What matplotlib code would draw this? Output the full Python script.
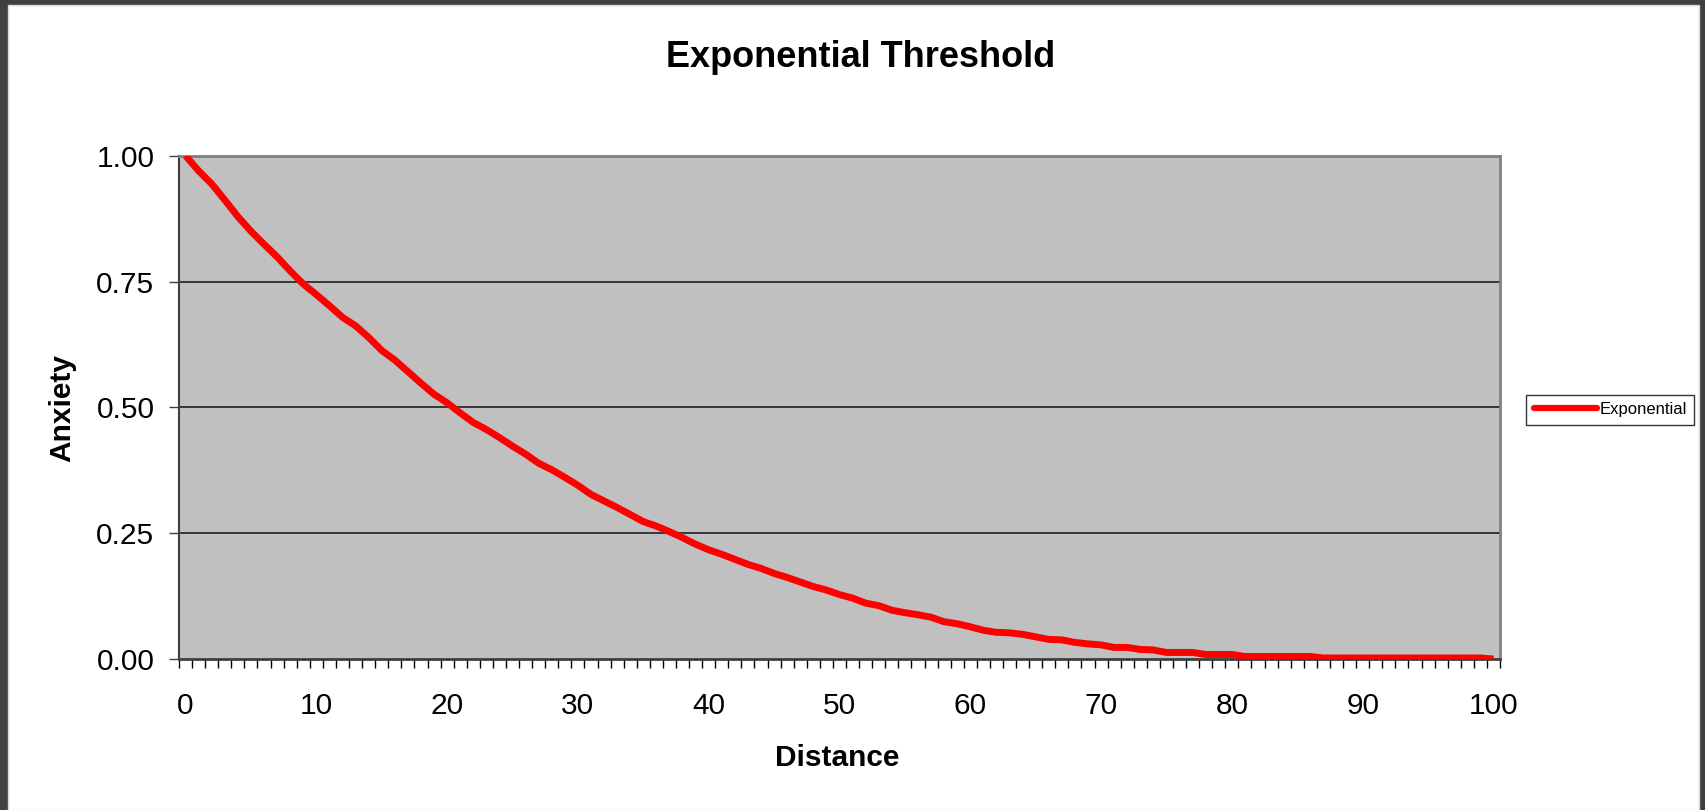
import matplotlib
matplotlib.use('Agg')
import matplotlib.pyplot as plt
import matplotlib.patches as patches
import numpy as np

plt.rcParams['font.family'] = ['Liberation Sans', 'DejaVu Sans']

# distance 0..100, anxiety
distance = list(range(0, 101))
anxiety = [1.000, 0.970, 0.944, 0.912, 0.879, 0.850, 0.824, 0.799, 0.771, 0.745, 0.724,
           0.702, 0.679, 0.662, 0.639, 0.613, 0.594, 0.571, 0.548, 0.526, 0.509,
           0.489, 0.470, 0.456, 0.440, 0.423, 0.407, 0.389, 0.376, 0.361, 0.345,
           0.327, 0.314, 0.301, 0.287, 0.273, 0.264, 0.253, 0.241, 0.228, 0.217,
           0.208, 0.198, 0.188, 0.180, 0.170, 0.162, 0.153, 0.144, 0.137, 0.128,
           0.121, 0.111, 0.106, 0.097, 0.092, 0.088, 0.083, 0.074, 0.070, 0.064,
           0.057, 0.053, 0.052, 0.049, 0.044, 0.039, 0.038, 0.033, 0.030, 0.028,
           0.023, 0.023, 0.019, 0.018, 0.013, 0.013, 0.013, 0.009, 0.009, 0.009,
           0.005, 0.005, 0.005, 0.005, 0.005, 0.005, 0.002, 0.002, 0.002, 0.002,
           0.002, 0.002, 0.002, 0.002, 0.002, 0.002, 0.002, 0.002, 0.002, 0.000]
yticks = [0.0, 0.25, 0.5, 0.75, 1.0]
xticks = list(range(0, 101, 10))

fig = plt.figure(figsize=(17.05, 8.1), dpi=100)
fig.patch.set_facecolor('#404040')
# white chart area inside the dark frame
fig.patches.append(patches.Rectangle((8/1705, 0), (1699-8)/1705, (810-5)/810,
                                     transform=fig.transFigure, facecolor='white',
                                     edgecolor='#d8d8d8', lw=1, zorder=-5))

ax = fig.add_axes([179/1705, 1-659/810, (1500-179)/1705, (659-155.7)/810])
ax.set_facecolor('#C0C0C0')

ax.plot(distance, anxiety, color='#FF0000', lw=5, solid_joinstyle='round',
        solid_capstyle='butt', label='Exponential', zorder=3)

ax.set_xlim(-0.5, 100.5)
ax.set_ylim(0, 1)

# horizontal gridlines
for g in yticks[1:-1]:
    ax.axhline(g, color='#202020', lw=1.2, zorder=1)

ax.set_yticks(yticks)
ax.set_yticklabels(['%.2f' % t for t in yticks])
ax.set_xticks(xticks)
ax.set_xticklabels([str(t) for t in xticks])
ax.set_xticks(np.arange(-0.5, 101, 1), minor=True)

ax.tick_params(axis='y', direction='out', length=7.2, width=1, color='#404040',
               pad=10.5, labelsize=21.5)
ax.tick_params(axis='x', which='major', length=0, pad=24, labelsize=21.5)
ax.tick_params(axis='x', which='minor', direction='out', length=6.5, width=1, color='black')

for s in ['top', 'right']:
    ax.spines[s].set_color('#808080')
    ax.spines[s].set_linewidth(2)
ax.spines['left'].set_color('#404040')
ax.spines['left'].set_linewidth(1.5)
ax.spines['bottom'].set_color('#404040')
ax.spines['bottom'].set_linewidth(2)

fig.text(0.505, 0.929, 'Exponential Threshold', fontsize=26, fontweight='bold',
         ha='center', va='center')
fig.text(837/1705, 1-758/810, 'Distance', fontsize=21.5, fontweight='bold',
         ha='center', va='center')
fig.text(62/1705, 1-408/810, 'Anxiety', fontsize=21.5, fontweight='bold',
         ha='center', va='center', rotation=90)

leg = ax.legend(loc='center left', bbox_to_anchor=(1526/1705, 1-409.5/810),
                bbox_transform=fig.transFigure, fontsize=12, frameon=True,
                fancybox=False, handlelength=3.8, handletextpad=0.15,
                borderpad=0.45, borderaxespad=0)
leg.get_frame().set_edgecolor('black')
leg.get_frame().set_linewidth(1)
leg.get_lines()[0].set_linewidth(4.5)
leg.get_lines()[0].set_solid_capstyle('round')

plt.savefig('out.png', dpi=100, facecolor=fig.get_facecolor())
